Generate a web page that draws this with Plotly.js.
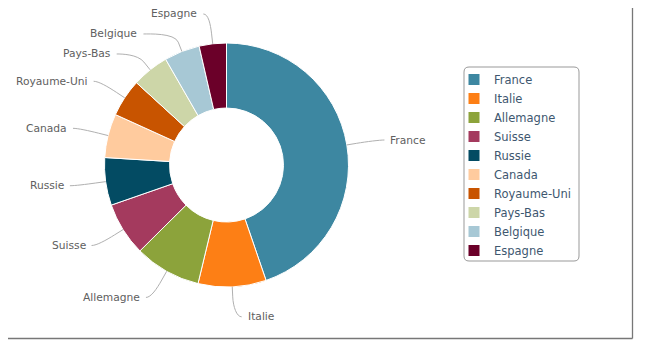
<!DOCTYPE html>
<html>
<head>
<meta charset="utf-8">
<script src="https://cdn.plot.ly/plotly-3.0.1.min.js"></script>
<style>html,body{margin:0;padding:0;background:#fff;}#chart{width:647px;height:353px;}</style>
</head>
<body>
<div id="chart"></div>
<script>
// ---- data ----
const countries = ["France","Italie","Allemagne","Suisse","Russie","Canada","Royaume-Uni","Pays-Bas","Belgique","Espagne"];
const shares = [44.7, 9.0, 8.8, 7.1, 6.3, 5.8, 5.0, 4.9, 4.7, 3.6];
const sliceColors = ["#3d87a1","#fd7f15","#8ca33b","#a43a5e","#034b63","#ffcb9e","#c85400","#cdd6a8","#a7c8d5","#6b0029"];

// ---- geometry (pixels) ----
const W = 647, H = 353;
const cx = 226.5, cy = 165, R = 122;
const px = x => x / W, py = y => 1 - y / H;

// label placement derived from data
const total = shares.reduce((a, b) => a + b, 0);
let cum = 0;
const items = shares.map((v, i) => {
  const a0 = cum / total * 2 * Math.PI; cum += v;
  const a1 = cum / total * 2 * Math.PI;
  const th = (a0 + a1) / 2;
  const LR = R + 30;
  return {i, th, left: th > Math.PI, y: cy - LR * Math.cos(th), LR};
});
[true, false].forEach(side => {
  const grp = items.filter(o => o.left === side).sort((a, b) => a.y - b.y);
  for (let k = 1; k < grp.length; k++) {
    if (grp[k].y < grp[k - 1].y + 20) grp[k].y = grp[k - 1].y + 20;
  }
});
const annotations = [], shapes = [];
items.forEach(o => {
  const s = o.left ? -1 : 1;
  const dx = Math.max(Math.abs(Math.sin(o.th)) * o.LR, Math.sqrt(Math.max(0, o.LR * o.LR - (o.y - cy) * (o.y - cy))));
  const ax = cx + s * dx;
  const tx = ax + s * (o.left ? 10 : 12);
  annotations.push({
    x: px(tx), y: py(o.y), xref: 'paper', yref: 'paper', showarrow: false,
    xanchor: o.left ? 'right' : 'left', yanchor: 'middle',
    text: countries[o.i], font: {family: 'DejaVu Sans', size: 10.7, color: '#606060'}
  });
  const tX = cx + R * Math.sin(o.th), tY = cy - R * Math.cos(o.th);
  const bX = cx + (R + 10) * Math.sin(o.th), bY = cy - (R + 10) * Math.cos(o.th);
  const eX = tx - s * 4, eY = o.y;
  const c1x = eX - s * 5, c1y = eY;
  const c2x = 2 * bX - tX, c2y = 2 * bY - tY;
  const path = `M${px(eX)},${py(eY)} C${px(c1x)},${py(c1y)} ${px(c2x)},${py(c2y)} ${px(bX)},${py(bY)} L${px(tX)},${py(tY)}`;
  shapes.push({type: 'path', xref: 'paper', yref: 'paper', path, line: {color: '#b0b0b0', width: 1}});
});

// legend frame (rounded)
function roundRect(x0, y0, x1, y1, r) {
  const rx = r / W, ry = r / H;
  const X0 = px(x0), X1 = px(x1), Y0 = py(y0), Y1 = py(y1);
  return `M${X0 + rx},${Y0} L${X1 - rx},${Y0} Q${X1},${Y0} ${X1},${Y0 - ry} L${X1},${Y1 + ry} Q${X1},${Y1} ${X1 - rx},${Y1} L${X0 + rx},${Y1} Q${X0},${Y1} ${X0},${Y1 + ry} L${X0},${Y0 - ry} Q${X0},${Y0} ${X0 + rx},${Y0} Z`;
}
shapes.push({type: 'path', xref: 'paper', yref: 'paper', path: roundRect(464, 67, 579, 261, 5), line: {color: '#999999', width: 1}});
// chart frame shadow edges
shapes.push({type: 'line', xref: 'paper', yref: 'paper', x0: px(632.5), x1: px(632.5), y0: py(8), y1: py(338.5), line: {color: '#777777', width: 1.3}});
shapes.push({type: 'line', xref: 'paper', yref: 'paper', x0: px(8), x1: px(632.5), y0: py(338.5), y1: py(338.5), line: {color: '#777777', width: 1.3}});

const trace = {
  type: 'pie', labels: countries, values: shares, sort: false, direction: 'clockwise', rotation: 0,
  hole: 0.467, textinfo: 'none', hoverinfo: 'label+percent',
  marker: {colors: sliceColors, line: {color: '#ffffff', width: 1}},
  domain: {x: [px(cx - R), px(cx + R)], y: [py(cy + R), py(cy - R)]}
};
const layout = {
  width: W, height: H, margin: {l: 0, r: 0, t: 0, b: 0},
  paper_bgcolor: '#ffffff', plot_bgcolor: '#ffffff',
  showlegend: true,
  legend: {x: px(454), y: py(65), xanchor: 'left', yanchor: 'top', bgcolor: 'rgba(0,0,0,0)', borderwidth: 0,
    font: {family: 'DejaVu Sans', size: 11.5, color: '#3e576f'}, traceorder: 'normal'},
  annotations, shapes
};
Plotly.newPlot('chart', [trace], layout, {displayModeBar: false, staticPlot: true});
</script>
</body>
</html>
